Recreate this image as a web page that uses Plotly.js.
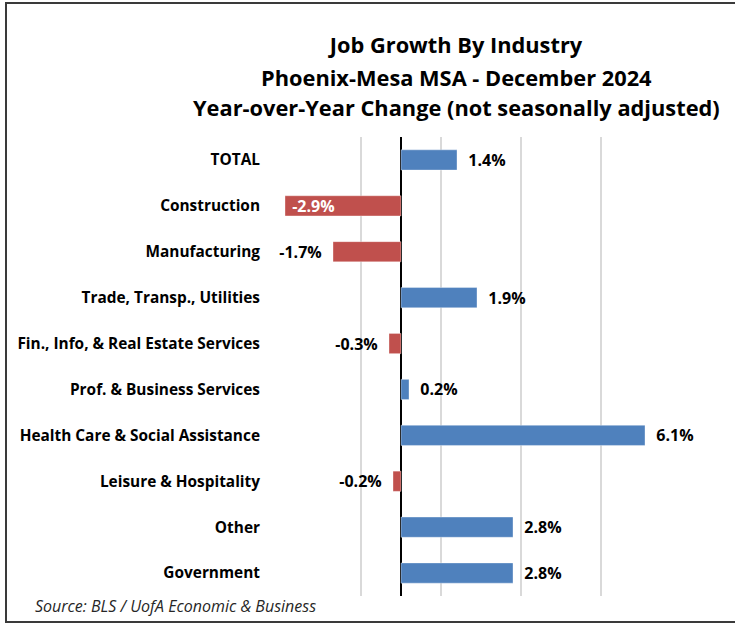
<!DOCTYPE html>
<html>
<head>
<meta charset="utf-8">
<script src="https://cdn.plot.ly/plotly-3.0.1.min.js"></script>
<style>html,body{margin:0;padding:0;background:#fff;}#chart{width:735px;height:623px;}</style>
</head>
<body>
<div id="chart"></div>
<script>
const categories = [
  "TOTAL",
  "Construction",
  "Manufacturing",
  "Trade, Transp., Utilities",
  "Fin., Info, & Real Estate Services",
  "Prof. & Business Services",
  "Health Care & Social Assistance",
  "Leisure & Hospitality",
  "Other",
  "Government"
];
const values = [1.4, -2.9, -1.7, 1.9, -0.3, 0.2, 6.1, -0.2, 2.8, 2.8];
const gridTicks = [-3, -1, 1, 3, 5, 7];
const titleLines = [
  "Job Growth By Industry",
  "Phoenix-Mesa MSA - December 2024",
  "Year-over-Year Change (not seasonally adjusted)"
];
const sourceText = "Source: BLS / UofA Economic & Business";

const BLUE = "#4F81BD", RED = "#C0504D";
const FONT = "'Open Sans', Lato, sans-serif";
const NB = "\u00A0";

const colors = values.map(v => v < 0 ? RED : BLUE);
const inside = values.map(v => v < -2.5);
const texts = values.map((v, i) => {
  const s = v.toFixed(1) + "%";
  if (inside[i]) return NB + s;
  return v < 0 ? s + NB + NB : NB + NB + s;
});

const LABEL_SIZE = 16;
const trace = {
  type: "bar",
  orientation: "h",
  x: values,
  y: categories,
  marker: { color: colors, line: { color: "rgba(255,255,255,0.35)", width: 1 } },
  text: texts,
  textposition: inside.map(b => b ? "inside" : "outside"),
  insidetextanchor: "end",
  textfont: { family: FONT, size: LABEL_SIZE, color: inside.map(b => b ? "#ffffff" : "#000000"), weight: "bold" },
  outsidetextfont: { family: FONT, size: LABEL_SIZE, color: "#000000", weight: "bold" },
  insidetextfont: { family: FONT, size: LABEL_SIZE, color: "#ffffff", weight: "bold" },
  constraintext: "none",
  cliponaxis: false,
  hoverinfo: "x+y"
};

const L = 281, R = 54, T = 137, B = 27, W = 735, H = 623;
const pw = W - L - R, ph = H - T - B;
const px = x => (x - L) / pw;
const py = y => (H - B - y) / ph;

const TITLE_SIZE = 21.8;
const titleY = [45, 77, 108];

const layout = {
  width: W, height: H,
  margin: { l: L, r: R, t: T, b: B },
  paper_bgcolor: "#ffffff",
  plot_bgcolor: "#ffffff",
  showlegend: false,
  bargap: 0.56,
  font: { family: FONT, color: "#000000" },
  title: {
    text: "<b>" + titleLines[0] + "</b>",
    font: { family: FONT, size: TITLE_SIZE, color: "#000000" },
    x: px(456), xref: "paper", xanchor: "center",
    y: 1 - titleY[0] / H, yref: "container", yanchor: "middle"
  },
  xaxis: {
    range: [-3, 7],
    tickvals: gridTicks,
    showticklabels: false,
    showgrid: true,
    gridcolor: "#d9d9d9",
    gridwidth: 2,
    zeroline: true,
    zerolinecolor: "#000000",
    zerolinewidth: 1.5,
    showline: false,
    fixedrange: true
  },
  yaxis: {
    type: "category",
    categoryorder: "array",
    categoryarray: categories,
    autorange: "reversed",
    showgrid: false,
    zeroline: false,
    showline: false,
    ticks: "",
    ticklabelstandoff: 20,
    tickfont: { family: FONT, size: 15.4, color: "#000000", weight: "bold" },
    fixedrange: true
  },
  shapes: [{
    type: "rect", xref: "paper", yref: "paper",
    x0: px(6), x1: px(740), y0: py(622), y1: py(3),
    line: { color: "#3a3a3a", width: 2 }, fillcolor: "rgba(0,0,0,0)", layer: "above"
  }],
  annotations: [
    ...titleLines.slice(1).map((t, i) => ({
      text: "<b>" + t + "</b>",
      xref: "paper", yref: "paper",
      x: px(456), y: py(titleY[i + 1]), xanchor: "center", yanchor: "middle",
      showarrow: false,
      font: { family: FONT, size: TITLE_SIZE, color: "#000000" }
    })),
    {
      text: "<i>" + sourceText + "</i>",
      xref: "paper", yref: "paper",
      x: px(33), y: py(606), xanchor: "left", yanchor: "middle",
      showarrow: false,
      font: { family: FONT, size: 16, color: "#262626" }
    }
  ]
};

Plotly.newPlot("chart", [trace], layout, { displayModeBar: false, staticPlot: true });
</script>
</body>
</html>
